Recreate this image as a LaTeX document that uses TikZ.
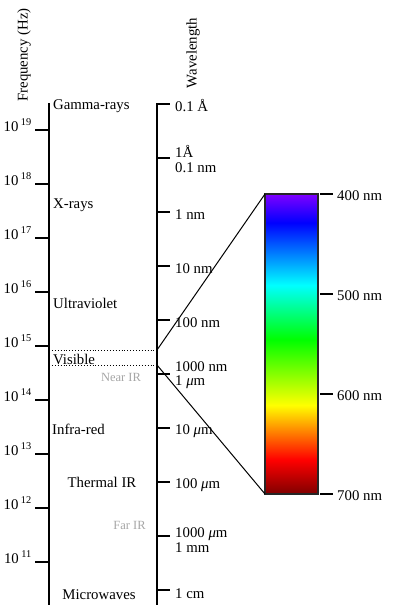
\documentclass[tikz,border=0pt]{standalone}
\usepackage{fontspec}
\setmainfont{Liberation Serif}
\usepackage{xcolor}
\usepackage{tikz}
\definecolor{specdred}{rgb}{0.5,0,0}
\definecolor{specorange}{rgb}{1,0.5,0}
\definecolor{specviolet}{rgb}{0.5,0,1}
\pgfdeclareverticalshading{spectrum}{100bp}{color(0bp)=(specdred); color(25bp)=(specdred);
  color(30.7bp)=(red); color(35.3bp)=(specorange); color(39.8bp)=(yellow); color(50.7bp)=(green);
  color(59.8bp)=(cyan); color(70.2bp)=(blue); color(75bp)=(specviolet); color(100bp)=(specviolet)}
\newcommand\mum{{\itshape μ}m}
\tikzstyle{axis}=[line width=1.5pt]
\tikzstyle{tick}=[line width=1.5pt]
\tikzstyle{band}=[anchor=base west,inner sep=0pt]
\tikzstyle{wl}=[anchor=base west,inner sep=0pt]
\tikzstyle{fq}=[anchor=base east,inner sep=0pt]
\tikzstyle{faint}=[anchor=base,inner sep=0pt,text=black!35,font=\fontsize{12.5}{14}\selectfont]
\tikzstyle{edge}=[dotted,line width=.9pt]
\tikzstyle{zoomline}=[line width=1pt]
\tikzstyle{specbar}=[draw=black!85,line width=1.3pt,shading=spectrum,minimum width=53pt,minimum height=300pt,inner sep=0pt,outer sep=0pt]

\begin{document}
\begin{tikzpicture}[x=1pt,y=-1pt,every node/.style={font=\fontsize{14.8}{17}\selectfont}]
	\useasboundingbox (0,0) rectangle (394,605);
	% titles
	\node[rotate=90] (freqtitle) at (24,55) {Frequency (Hz)};
	\node[rotate=90] (wavetitle) at (193,53) {Wavelength};
	% axes
	\coordinate (ftop) at (49,103);  \coordinate (fbot) at (49,605);
	\coordinate (wtop) at (157,103); \coordinate (wbot) at (157,605);
	\draw[axis] (ftop) -- (fbot);
	\draw[axis] (wtop) -- (wbot);
	% frequency ticks
	\draw[tick] (35,130) -- (49,130); \node[fq] (f19) at (32,131) {10\,\textsuperscript{19}};
	\draw[tick] (35,184) -- (49,184); \node[fq] (f18) at (32,185) {10\,\textsuperscript{18}};
	\draw[tick] (35,238) -- (49,238); \node[fq] (f17) at (32,239) {10\,\textsuperscript{17}};
	\draw[tick] (35,292) -- (49,292); \node[fq] (f16) at (32,293) {10\,\textsuperscript{16}};
	\draw[tick] (35,346) -- (49,346); \node[fq] (f15) at (32,347) {10\,\textsuperscript{15}};
	\draw[tick] (35,400) -- (49,400); \node[fq] (f14) at (32,401) {10\,\textsuperscript{14}};
	\draw[tick] (35,454) -- (49,454); \node[fq] (f13) at (32,455) {10\,\textsuperscript{13}};
	\draw[tick] (35,508) -- (49,508); \node[fq] (f12) at (32,509) {10\,\textsuperscript{12}};
	\draw[tick] (35,562) -- (49,562); \node[fq] (f11) at (32,563) {10\,\textsuperscript{11}};
	% wavelength ticks
	\draw[tick] (157,104) -- (170,104); \node[wl] (w0) at (175,111) {0.1 Å};
	\draw[tick] (157,158) -- (170,158); \node[wl] (w1a) at (175,157) {1Å};
	                                    \node[wl] (w1b) at (175,172) {0.1 nm};
	\draw[tick] (157,212) -- (170,212); \node[wl] (w2) at (175,219) {1 nm};
	\draw[tick] (157,266) -- (170,266); \node[wl] (w3) at (175,273) {10 nm};
	\draw[tick] (157,320) -- (170,320); \node[wl] (w4) at (175,327) {100 nm};
	\draw[tick] (157,374) -- (170,374); \node[wl] (w5a) at (175,371) {1000 nm};
	                                    \node[wl] (w5b) at (175,385) {1 \mum};
	\draw[tick] (157,428) -- (170,428); \node[wl] (w6) at (175,434) {10 \mum};
	\draw[tick] (157,482) -- (170,482); \node[wl] (w7) at (175,488) {100 \mum};
	\draw[tick] (157,536) -- (170,536); \node[wl] (w8a) at (175,537) {1000 \mum};
	                                    \node[wl] (w8b) at (175,552) {1 mm};
	\draw[tick] (157,590) -- (170,590); \node[wl] (w9) at (175,598) {1 cm};
	% bands
	\node[band] (gamma) at (53,109) {Gamma-rays};
	\node[band] (xray) at (53,208) {X-rays};
	\node[band] (uv) at (53,308) {Ultraviolet};
	\node[band] (vis) at (53,364) {Visible};
	\node[faint] (nearir) at (121,381) {Near IR};
	\node[band] (ir) at (52,434) {Infra-red};
	\node[band,anchor=base] (thermal) at (102,487) {Thermal IR};
	\node[faint] (farir) at (129.5,529) {Far IR};
	\node[band,anchor=base] (micro) at (99,599) {Microwaves};
	% visible range
	\coordinate (fvtop) at (49,350); \coordinate (wvtop) at (157,350);
	\coordinate (fvbot) at (49,365); \coordinate (wvbot) at (157,365);
	\draw[edge] (fvtop) -- (wvtop);
	\draw[edge] (fvbot) -- (wvbot);
	\node[specbar] (bar) at (291.5,344) {};
	\draw[zoomline] (wvtop) -- (bar.north west);
	\draw[zoomline] (wvbot) -- (bar.south west);
	% spectrum ticks
	\draw[tick] (320,194) -- (333,194); \node[wl] (s4) at (337,200) {400 nm};
	\draw[tick] (320,294) -- (333,294); \node[wl] (s5) at (337,300) {500 nm};
	\draw[tick] (320,394) -- (333,394); \node[wl] (s6) at (337,400) {600 nm};
	\draw[tick] (320,494) -- (333,494); \node[wl] (s7) at (337,500) {700 nm};
\end{tikzpicture}
\end{document}
